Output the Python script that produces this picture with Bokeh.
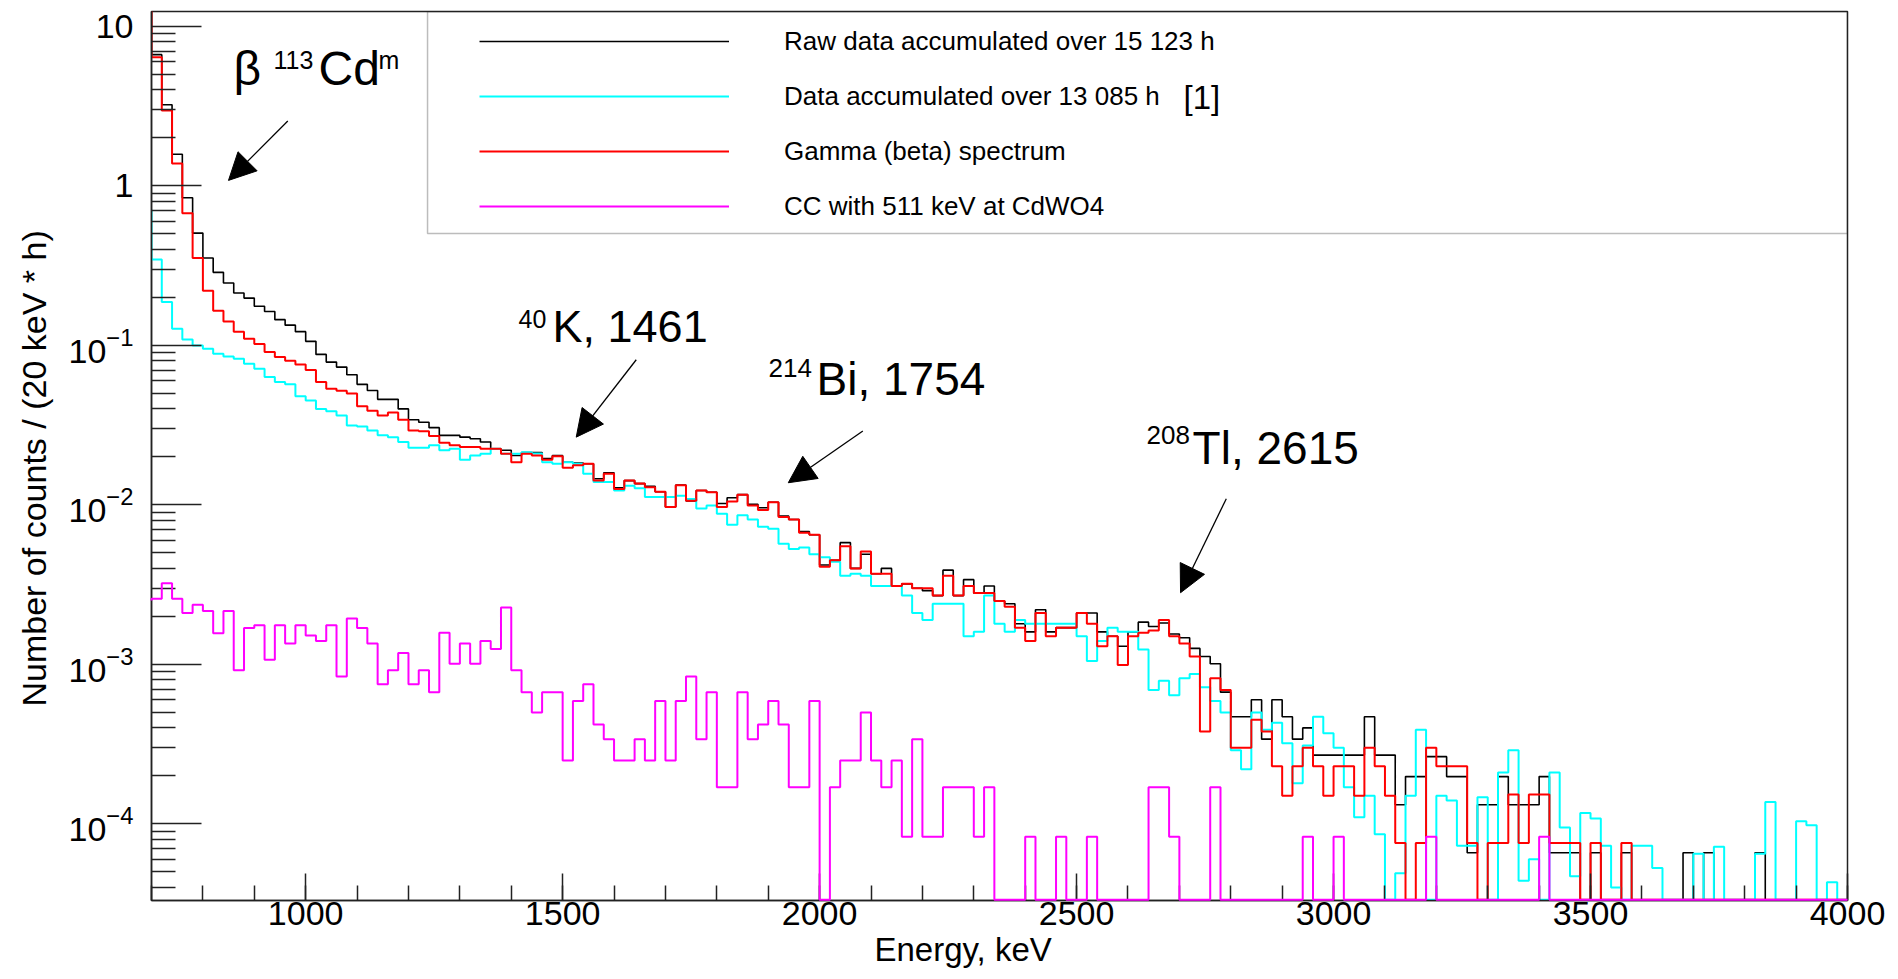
import math
from bokeh.plotting import figure
from bokeh.models import (Range1d, FixedTicker, Label, Arrow, NormalHead,
                          Legend, LegendItem, BoxAnnotation, Title)
from bokeh.embed import file_html
from bokeh.resources import INLINE

# ---------------- data ----------------
# 20 keV bins; first value is the bin 680-700 keV (just left of the shown range),
# then 700-720, 720-740, ... 3980-4000 keV.  Units: counts / (20 keV * h)
E_FIRST_EDGE = 680
BIN_WIDTH = 20

raw_15123h = [20.0,
    6.65, 3.23, 1.58, 0.843, 0.506, 0.353, 0.287, 0.246, 0.213, 0.198,
    0.176, 0.163, 0.145, 0.134, 0.122, 0.106, 0.0878, 0.0786, 0.0731, 0.0655,
    0.057, 0.0522, 0.0459, 0.0459, 0.040, 0.0342, 0.033, 0.0305, 0.0273, 0.0273,
    0.0266, 0.0260, 0.0248, 0.0225, 0.0220, 0.0204, 0.0213, 0.0213, 0.0195, 0.0204,
    0.0185, 0.0183, 0.0181, 0.0146, 0.0159, 0.0128, 0.0142, 0.0136, 0.0131, 0.0121,
    0.0097, 0.0133, 0.0106, 0.0123, 0.0120, 0.0102, 0.0111, 0.0116, 0.0101, 0.0096,
    0.0104, 0.0085, 0.0081, 0.0068, 0.0065, 0.0042, 0.0045, 0.0058, 0.0040, 0.0049,
    0.0037, 0.0040, 0.0031, 0.0032, 0.0030, 0.0029, 0.0027, 0.0039, 0.0027, 0.0034,
    0.0028, 0.0031, 0.0025, 0.0024, 0.0018, 0.0016, 0.0022, 0.0016, 0.0017, 0.0017,
    0.0021, 0.0021, 0.0016, 0.0015, 0.0013, 0.0016, 0.00184, 0.00173, 0.00182, 0.00155,
    0.00147, 0.00126, 0.00112, 0.00101, 0.00067, 0.00047, 0.00047, 0.0006, 0.00034, 0.0006,
    0.00047, 0.00034, 0.0004, 0.00027, 0.00027, 0.00027, 0.00027, 0.00027, 0.00047, 0.00027,
    0.00027, 0.000132, 0.000198, 0.000198, 0.000264, 0.000264, 0.000198, 0.000198, 0.000066, 0.000132,
    0.000132, 0.000198, 0.000132, 0.000132, 0.000132, 0.000198, 0.000066, 0.000066, 0.000066, 0,
    0.000066, 0, 0, 0.000066, 0, 0, 0, 0, 0, 0.000066,
    0, 0.000066, 0, 0, 0, 0, 0.000066, 0, 0, 0,
    0, 0, 0, 0, 0]

data_13085h = [0.71,
    0.345, 0.187, 0.127, 0.109, 0.100, 0.0953, 0.0887, 0.0853, 0.0825, 0.0767,
    0.0714, 0.0633, 0.0589, 0.057, 0.048, 0.0452, 0.040, 0.0387, 0.0364, 0.0315,
    0.031, 0.0293, 0.0273, 0.0266, 0.0248, 0.0228, 0.0228, 0.0237, 0.022, 0.0225,
    0.0192, 0.0204, 0.0209, 0.0225, 0.0209, 0.0209, 0.0214, 0.021, 0.0185, 0.0181,
    0.0185, 0.0181, 0.0157, 0.0139, 0.0139, 0.0123, 0.0132, 0.0127, 0.0112, 0.0112,
    0.0112, 0.0114, 0.0109, 0.0095, 0.0099, 0.0088, 0.0075, 0.0086, 0.0081, 0.0073,
    0.0071, 0.0057, 0.0053, 0.0054, 0.0049, 0.0047, 0.0044, 0.0036, 0.0037, 0.0036,
    0.0031, 0.0031, 0.0031, 0.0027, 0.0021, 0.0019, 0.0024, 0.0024, 0.0024, 0.0015,
    0.0016, 0.0027, 0.0018, 0.0016, 0.0019, 0.0018, 0.0018, 0.0018, 0.0018, 0.0018,
    0.0015, 0.00105, 0.0014, 0.0017, 0.0016, 0.0016, 0.00124, 0.00069, 0.00079, 0.00064,
    0.00082, 0.00087, 0.00072, 0.00059, 0.0005, 0.00029, 0.00022, 0.0005, 0.00039, 0.00043,
    0.00032, 0.00018, 0.00031, 0.00047, 0.00037, 0.0003, 0.00017, 0.00011, 0.00015, 0.000086,
    0, 0.000049, 0.00015, 0.00039, 0, 0.00015, 0.00014, 0.000073, 0.000073, 0.000147,
    0, 0.00021, 0.00029, 0.000044, 0.00006, 0, 0.00021, 0.000095, 0.000047, 0.000117,
    0.000108, 0.000073, 0.00004, 0, 0.000073, 0.000073, 0.000053, 0, 0, 0,
    0.000065, 0, 0.000072, 0, 0, 0, 0.000065, 0.000137, 0, 0,
    0.000104, 0.000098, 0, 0.000043, 0]

gamma_beta = [20.0,
    6.4, 2.97, 1.38, 0.675, 0.353, 0.22, 0.165, 0.141, 0.122, 0.110,
    0.102, 0.091, 0.0845, 0.080, 0.076, 0.070, 0.059, 0.0535, 0.052, 0.050,
    0.0415, 0.039, 0.0364, 0.038, 0.0342, 0.0293, 0.029, 0.027, 0.0245, 0.0237,
    0.0231, 0.0231, 0.0225, 0.0225, 0.0209, 0.0185, 0.0209, 0.0204, 0.0192, 0.0202,
    0.0171, 0.0177, 0.0181, 0.0142, 0.0157, 0.0126, 0.0142, 0.0136, 0.0129, 0.0121,
    0.0097, 0.0133, 0.0106, 0.0123, 0.0120, 0.0097, 0.0105, 0.0116, 0.0099, 0.0093,
    0.0104, 0.0084, 0.0081, 0.0067, 0.0065, 0.0041, 0.0045, 0.0055, 0.0040, 0.0051,
    0.0037, 0.0037, 0.0031, 0.0032, 0.0030, 0.0030, 0.0027, 0.0036, 0.0027, 0.0031,
    0.0028, 0.0028, 0.0025, 0.0023, 0.0017, 0.0014, 0.0021, 0.0015, 0.0017, 0.0017,
    0.0021, 0.0018, 0.0013, 0.0015, 0.00099, 0.0015, 0.00158, 0.00163, 0.0019, 0.0015,
    0.00135, 0.00112, 0.00038, 0.00082, 0.00069, 0.0003, 0.0003, 0.00045, 0.00038, 0.00023,
    0.00015, 0.00023, 0.0003, 0.00023, 0.00015, 0.00023, 0.00023, 0.00015, 0.0003, 0.00023,
    0.00015, 0.000076, 0, 0.000076, 0.0003, 0.00023, 0.00023, 0.00023, 0.000076, 0,
    0.000076, 0.000076, 0.000153, 0.000076, 0.000153, 0.000153, 0.000076, 0.000076, 0.000076, 0,
    0.000076, 0, 0, 0.000076, 0, 0, 0, 0, 0, 0,
    0, 0, 0, 0, 0, 0, 0, 0, 0, 0,
    0, 0, 0, 0, 0]

cc_511 = [0.00252,
    0.00258, 0.00323, 0.00258, 0.00210, 0.00237, 0.00216, 0.00157, 0.00216, 0.00092, 0.00169,
    0.00176, 0.00107, 0.00176, 0.00135, 0.00176, 0.00152, 0.00140, 0.00176, 0.00084, 0.00194,
    0.00169, 0.00135, 0.00075, 0.00092, 0.00118, 0.00075, 0.00092, 0.00067, 0.00158, 0.00101,
    0.00135, 0.00101, 0.00140, 0.00125, 0.00227, 0.00092, 0.00067, 0.00050, 0.00067, 0.00067,
    0.00025, 0.00059, 0.00075, 0.00042, 0.00034, 0.00025, 0.00025, 0.00034, 0.00025, 0.00059,
    0.00025, 0.00059, 0.00084, 0.00034, 0.00067, 0.00017, 0.00017, 0.00067, 0.00034, 0.00042,
    0.00059, 0.00042, 0.00017, 0.00017, 0.00059, 0, 0.00017, 0.00025, 0.00025, 0.00050,
    0.00025, 0.00017, 0.00025, 0.000083, 0.00034, 0.000083, 0.000083, 0.00017, 0.00017, 0.00017,
    0.000083, 0.00017, 0, 0, 0, 0.000083, 0, 0, 0.000083, 0,
    0, 0.000083, 0, 0, 0, 0, 0, 0.00017, 0.00017, 0.000083,
    0, 0, 0, 0.00017, 0, 0, 0, 0, 0, 0,
    0, 0, 0.000083, 0, 0, 0.000083, 0, 0, 0, 0,
    0, 0, 0, 0, 0.000083, 0, 0, 0, 0, 0,
    0, 0, 0, 0, 0, 0.000083, 0, 0, 0, 0,
    0, 0, 0, 0, 0, 0, 0, 0, 0, 0,
    0, 0, 0, 0, 0, 0, 0, 0, 0, 0,
    0, 0, 0, 0, 0]

series_labels = ["Raw data accumulated over 15 123 h",
                 "Data accumulated over 13 085 h",
                 "Gamma (beta) spectrum",
                 "CC with 511 keV at CdWO4"]
series_colors = ["#000000", "#00FFFF", "#FF0000", "#FF00FF"]

X_MIN, X_MAX = 700, 4000
Y_MIN, Y_MAX = 3.31e-5, 12.4

x_major = [1000, 1500, 2000, 2500, 3000, 3500, 4000]
x_minor = list(range(700, 4001, 100))
y_major = [1e-4, 1e-3, 1e-2, 1e-1, 1, 10]
y_minor = [m * 10.0 ** e for e in range(-5, 2) for m in range(2, 10)
           if Y_MIN <= m * 10.0 ** e <= Y_MAX]

FONT = "Liberation Sans"
AXIS_COLOR = "#222222"

# ---------------- figure ----------------
p = figure(width=1898, height=979, output_backend="svg", toolbar_location=None,
           x_range=Range1d(X_MIN, X_MAX), y_range=Range1d(Y_MIN, Y_MAX),
           y_axis_type="log", title=None,
           min_border_left=151, min_border_right=51, min_border_top=11,
           min_border_bottom=79)
p.background_fill_color = "white"
p.border_fill_color = "white"
p.grid.visible = False
p.outline_line_color = AXIS_COLOR
p.outline_line_width = 1.5

ZERO_LEVEL = Y_MIN * 1.01   # empty bins are drawn on the bottom frame line


def step_coords(vals):
    # vals[0] is the bin just left of X_MIN: only its edge at X_MIN is drawn
    xs, ys = [X_MIN], [vals[0] if vals[0] > 0 else ZERO_LEVEL]
    for i, v in enumerate(vals[1:]):
        lo = X_MIN + i * BIN_WIDTH
        vv = v if v > 0 else ZERO_LEVEL
        xs += [lo, lo + BIN_WIDTH]
        ys += [vv, vv]
    return xs, ys


renderers = []
for vals, col, lw in [(raw_15123h, series_colors[0], 1.6),
                      (data_13085h, series_colors[1], 2.0),
                      (gamma_beta, series_colors[2], 2.0),
                      (cc_511, series_colors[3], 2.0)]:
    xs, ys = step_coords(vals)
    renderers.append(p.line(xs, ys, line_color=col, line_width=lw))
renderers[3].level = "overlay"

# ---------------- axes ----------------
xa = p.xaxis[0]
xa.ticker = FixedTicker(ticks=x_major, minor_ticks=x_minor)
xa.major_tick_in = 27
xa.major_tick_out = 0
xa.minor_tick_in = 15
xa.minor_tick_out = 0
xa.major_label_standoff = 1
xa.major_label_text_font = FONT
xa.major_label_text_font_size = "34px"
xa.major_label_text_color = "black"

ya = p.yaxis[0]
ya.ticker = FixedTicker(ticks=y_major, minor_ticks=y_minor)
ya.major_tick_in = 50
ya.major_tick_out = 0
ya.minor_tick_in = 24
ya.minor_tick_out = 0
ya.major_label_standoff = 18
ya.major_label_text_font = FONT
ya.major_label_text_font_size = "34px"
ya.major_label_text_color = "black"
ya.major_label_overrides = {10: "10", 1: "1"}

for ax in (xa, ya):
    ax.axis_line_color = AXIS_COLOR
    ax.axis_line_width = 1.5
    ax.major_tick_line_color = AXIS_COLOR
    ax.major_tick_line_width = 1.5
    ax.minor_tick_line_color = AXIS_COLOR
    ax.minor_tick_line_width = 1.5

# axis titles (placed as side titles so that they can be offset like in the original)
p.add_layout(Title(text="Energy, keV", align="left", offset=723, standoff=2,
                   text_font=FONT, text_font_size="33px", text_font_style="normal",
                   text_color="black"), "below")
p.add_layout(Title(text="Number of counts / (20 keV * h)", align="left", offset=194,
                   standoff=25, text_font=FONT, text_font_size="34px",
                   text_font_style="normal", text_color="black"), "left")

# ---------------- legend ----------------
p.add_layout(BoxAnnotation(left=1237.1, right=X_MAX, bottom=0.5038, top=Y_MAX,
                           fill_alpha=0, fill_color=None, line_color=AXIS_COLOR,
                           line_width=1.5))
legend = Legend(items=[LegendItem(label=lab, renderers=[r])
                       for lab, r in zip(series_labels, renderers)],
                location=(328, 677), orientation="vertical",
                glyph_width=250, glyph_height=34, label_height=34,
                spacing=21, padding=0, margin=0, label_standoff=55,
                label_text_font=FONT, label_text_font_size="26px",
                label_text_color="black",
                border_line_color=None, background_fill_alpha=0)
p.add_layout(legend)
p.add_layout(Label(x=2708.0, y=3.6, text="[1]", text_font=FONT,
                   text_font_size="33px", text_baseline="middle", text_color="black"))

# ---------------- annotations ----------------
def add_text(x, y, text, size):
    p.add_layout(Label(x=x, y=y, text=text, text_font=FONT,
                       text_font_size=size, text_baseline="alphabetic",
                       text_align="left", text_color="black"))


add_text(859.6, 5.42, "β", "48px")
add_text(937.4, 6.19, "113", "25px")
add_text(1025.0, 5.42, "Cd", "48px")
add_text(1141.7, 6.19, "m", "25px")

add_text(1414.2, 0.147, "40", "25px")
add_text(1480.3, 0.1315, "K, 1461", "45px")

add_text(1900.6, 0.0718, "214", "26px")
add_text(1994.0, 0.0612, "Bi, 1754", "46px")

add_text(2636.2, 0.0273, "208", "26px")
add_text(2725.7, 0.02278, "Tl, 2615", "46px")

arrows = [((965.2, 2.55), (849.8, 1.083)),
          ((1643.2, 0.0813), (1526.4, 0.0266)),
          ((2084.1, 0.02903), (1939.0, 0.01377)),
          ((2791.3, 0.01094), (2702.3, 0.002815))]
for (xs0, ys0), (xe, ye) in arrows:
    p.add_layout(Arrow(end=NormalHead(size=27, fill_color="black", line_color="black",
                                      line_width=1),
                       x_start=xs0, y_start=ys0, x_end=xe, y_end=ye,
                       line_color="black", line_width=1.3))

open("out.html", "w").write(file_html(p, INLINE))
